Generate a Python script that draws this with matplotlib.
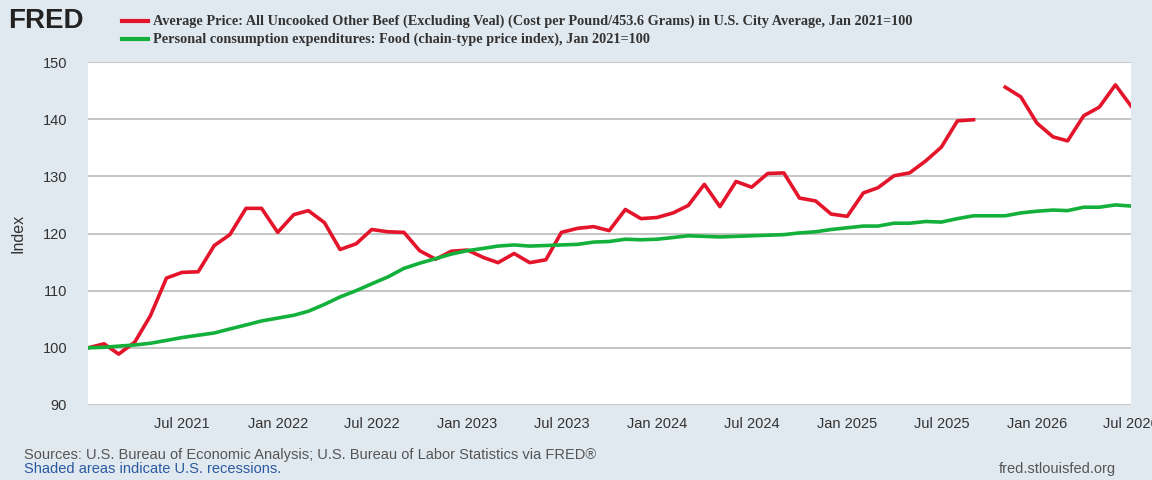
import numpy as np, pandas as pd
import matplotlib
matplotlib.use("Agg")
import matplotlib.pyplot as plt
plt.rcParams['font.family'] = ['Liberation Sans', 'DejaVu Sans']

dates = pd.date_range("2021-01-01", "2026-07-01", freq="MS")
beef = [100,100.7,98.9,101,105.6,112.2,113.2,113.3,117.9,119.8,124.4,124.4,
        120.2,123.3,124.0,121.9,117.2,118.2,120.7,120.3,120.2,117,115.5,116.9,
        117.1,115.8,114.9,116.5,114.9,115.4,120.2,120.9,121.2,120.5,124.2,122.6,
        122.8,123.6,124.9,128.6,124.7,129.1,128.1,130.5,130.6,126.2,125.7,123.4,
        123,127.1,128,130.1,130.6,132.7,135.1,139.7,139.9,np.nan,145.6,143.9,
        139.3,136.9,136.2,140.6,142.1,146.0,142.3]
food = [100,100.1,100.3,100.5,100.8,101.3,101.8,102.2,102.6,103.3,104.0,104.7,
        105.2,105.7,106.4,107.6,108.9,110.0,111.2,112.4,113.9,114.8,115.6,116.4,
        117.0,117.4,117.8,118.0,117.8,117.9,118.0,118.1,118.5,118.6,119.0,118.9,
        119.0,119.3,119.6,119.5,119.4,119.5,119.6,119.7,119.8,120.1,120.3,120.7,
        121.0,121.3,121.3,121.8,121.8,122.1,122.0,122.6,123.1,np.nan,123.1,123.6,
        123.9,124.1,124.0,124.6,124.6,125.0,124.8]
yticks = [90,100,110,120,130,140,150]
tick_dates = pd.date_range("2021-07-01", "2026-07-01", freq="6MS")
tick_labels = [d.strftime("%b %Y") for d in tick_dates]

bg = "#e1e9f0"
fig = plt.figure(figsize=(11.52,4.8), dpi=100, facecolor=bg)
ax = fig.add_axes([88/1152, 1-405/480, (1131-88)/1152, (405-62)/480])
ax.set_facecolor("white")
ax.plot(dates, beef, color="#e4142b", lw=2.6)
f = pd.Series(food, index=dates).dropna()
ax.plot(f.index, f.values, color="#13b03c", lw=2.6)
ax.set_xlim(dates[0], dates[-1])
ax.set_ylim(90,150)
ax.set_yticks(yticks)
ax.set_xticks(tick_dates)
ax.set_xticklabels(tick_labels)
ax.grid(axis="y", color="#c0c0c0", lw=1.3)
ax.set_axisbelow(True)
for s in ax.spines.values(): s.set_visible(False)
ax.tick_params(length=0, labelsize=10.5, colors="#333333", pad=9)
ax.tick_params(axis="y", pad=15)
ax.set_ylabel("Index", fontsize=11.5, color="#333333", labelpad=12)

fig.text(8/1152, 1-21/480, "FRED", fontsize=20, fontweight="bold", va="center", color="#222")
lx = 122/1152
for i,(c,t) in enumerate([("#e4142b","Average Price: All Uncooked Other Beef (Excluding Veal) (Cost per Pound/453.6 Grams) in U.S. City Average, Jan 2021=100"),
                          ("#13b03c","Personal consumption expenditures: Food (chain-type price index), Jan 2021=100")]):
    y = 1-(21+18*i)/480
    fig.add_artist(plt.Line2D([lx, lx+26/1152],[y,y], color=c, lw=3, transform=fig.transFigure))
    fig.text(lx+31/1152, y, t, fontsize=10.3, fontweight="bold", family="Liberation Serif", va="center", color="#333")
fig.text(24/1152, 1-455/480, "Sources: U.S. Bureau of Economic Analysis; U.S. Bureau of Labor Statistics via FRED®", fontsize=10.5, color="#555", va="center")
fig.text(24/1152, 1-469/480, "Shaded areas indicate U.S. recessions.", fontsize=10.5, color="#2a5aa0", va="center")
fig.text(1116/1152, 1-469/480, "fred.stlouisfed.org", fontsize=10.5, color="#555", va="center", ha="right")
fig.savefig("out.png", dpi=100, facecolor=bg)
